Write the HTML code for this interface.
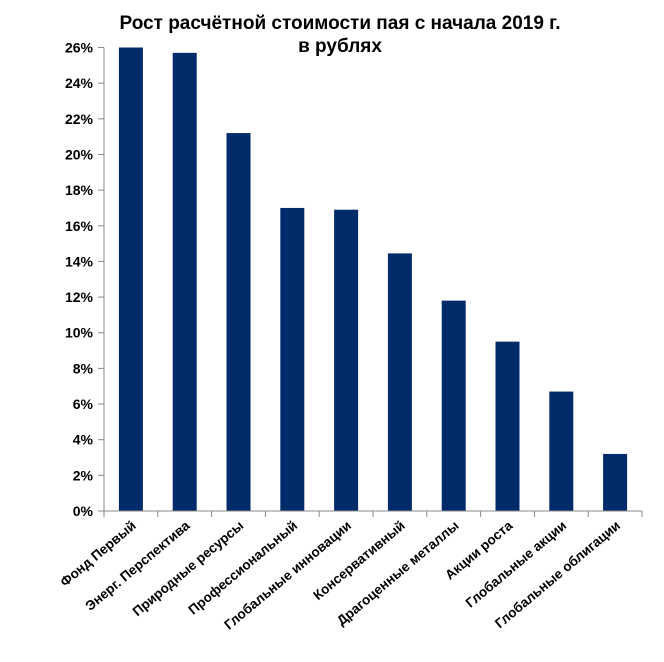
<!DOCTYPE html>
<html><head><meta charset="utf-8"><style>
body{margin:0;background:#fff;}
svg text{font-family:"Liberation Sans",Arial,sans-serif;font-weight:bold;fill:#000;}
</style></head><body>
<svg width="664" height="657" xmlns="http://www.w3.org/2000/svg">
<text x="340" y="29" font-size="19" text-anchor="middle">Рост расчётной стоимости пая с начала 2019 г.</text>
<text x="340" y="52" font-size="19" text-anchor="middle">в рублях</text>
<g id="plot"></g>
</svg>
<script>
const categories=["Фонд Первый","Энерг. Перспектива","Природные ресурсы","Профессиональный","Глобальные инновации","Консервативный","Драгоценные металлы","Акции роста","Глобальные акции","Глобальные облигации"];
const values=[26.0,25.7,21.2,17.0,16.9,14.45,11.8,9.5,6.7,3.2];
const tickValues=[0,2,4,6,8,10,12,14,16,18,20,22,24,26];
const tickLabels=["0%","2%","4%","6%","8%","10%","12%","14%","16%","18%","20%","22%","24%","26%"];
const NS="http://www.w3.org/2000/svg";
const g=document.getElementById('plot');
const x0=104,x1=642,y0=511,yTop=47.5,vMax=26;
const y=v=>y0-(v/vMax)*(y0-yTop);
const bw=(x1-x0)/categories.length;
const xc=i=>x0+bw*(i+0.5);
function mk(t,a){const e=document.createElementNS(NS,t);for(const k in a)e.setAttribute(k,a[k]);g.appendChild(e);return e;}
values.forEach((v,i)=>{
 const r=mk('rect',{x:xc(i)-12,y:y(v),width:24,height:y0-y(v),fill:'#002b6b'});
 
 
});
const ax=mk('line',{x1:x0,y1:yTop,x2:x0,y2:y0,stroke:'#888','stroke-width':1});


const bx=mk('line',{x1:x0,y1:y0,x2:x1,y2:y0,stroke:'#888','stroke-width':1});


tickValues.forEach((v,i)=>{
 mk('line',{x1:x0-6,y1:y(v),x2:x0,y2:y(v),stroke:'#888'});
 const t=mk('text',{x:x0-11,y:y(v)+5,'font-size':14,'text-anchor':'end'});
 t.textContent=tickLabels[i];
 
 
});
for(let i=0;i<=categories.length;i++){mk('line',{x1:x0+bw*i,y1:y0,x2:x0+bw*i,y2:y0+6,stroke:'#888'});}
categories.forEach((c,i)=>{
 const cx=xc(i)+6,cy=y0+16;
 const t=mk('text',{x:cx,y:cy,'font-size':13.5,'text-anchor':'end',transform:`rotate(-40 ${cx} ${cy})`});
 t.textContent=c;
 
 
});
</script>
</body></html>
